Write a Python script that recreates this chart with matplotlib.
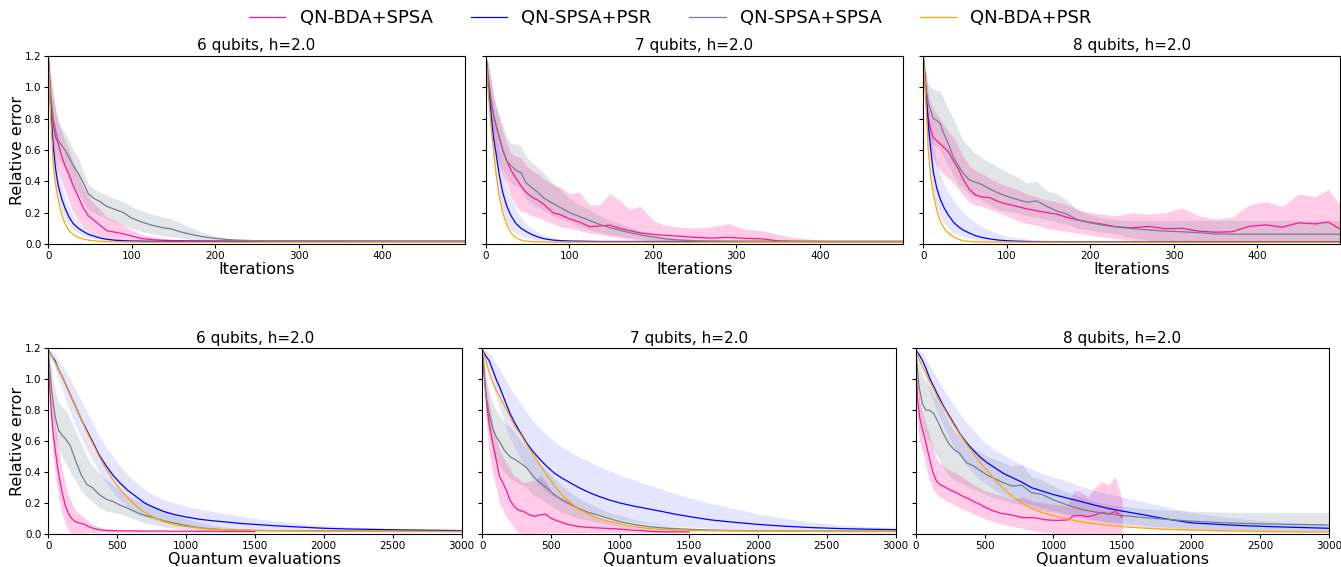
import numpy as np
import matplotlib.pyplot as plt

# colours for the four optimisers
C_BDA_SPSA = '#ff1493'
C_SPSA_PSR = 'blue'
C_SPSA_SPSA = 'slategray'
C_BDA_PSR = 'orange'

# ---------------- top row: x = iterations ----------------
it = [0, 3, 6, 9, 12, 16, 20, 25, 30, 36, 42, 48, 55, 62, 70, 80, 90, 100, 112, 124, 136,
      148, 160, 172, 185, 200, 215, 230, 250, 270, 290, 310, 330, 350, 370, 390, 410, 430,
      450, 470, 485, 499]

# 6 qubits
bda_spsa_6 = [1.20, 0.90, 0.76, 0.68, 0.64, 0.56, 0.50, 0.44, 0.37, 0.30, 0.23, 0.18, 0.15, 0.12, 0.085,
              0.075, 0.065, 0.05, 0.035, 0.028, 0.024, 0.022, 0.021, 0.02, 0.019, 0.019, 0.018, 0.018,
              0.017, 0.017, 0.017, 0.017, 0.017, 0.017, 0.017, 0.017, 0.016, 0.016, 0.016, 0.016, 0.016, 0.016]
bda_spsa_6_hi = [1.20, 1.05, 0.95, 0.85, 0.78, 0.72, 0.66, 0.60, 0.52, 0.44, 0.36, 0.30, 0.26, 0.22, 0.17,
                 0.15, 0.12, 0.09, 0.06, 0.045, 0.035, 0.03, 0.027, 0.025, 0.023, 0.022, 0.021, 0.021,
                 0.02, 0.02, 0.02, 0.02, 0.02, 0.02, 0.02, 0.02, 0.02, 0.02, 0.02, 0.02, 0.02, 0.02]
bda_spsa_6_lo = [1.20, 0.78, 0.60, 0.52, 0.46, 0.40, 0.34, 0.27, 0.20, 0.15, 0.11, 0.085, 0.065, 0.05, 0.04,
                 0.03, 0.025, 0.02, 0.016, 0.014, 0.013, 0.012, 0.012, 0.012, 0.012, 0.012, 0.012, 0.012,
                 0.012, 0.012, 0.012, 0.012, 0.012, 0.012, 0.012, 0.012, 0.012, 0.012, 0.012, 0.012, 0.012, 0.012]
spsa_spsa_6 = [1.20, 0.95, 0.80, 0.72, 0.66, 0.63, 0.60, 0.55, 0.50, 0.45, 0.39, 0.32, 0.29, 0.27, 0.24,
               0.22, 0.20, 0.165, 0.14, 0.12, 0.105, 0.095, 0.075, 0.06, 0.046, 0.036, 0.028, 0.024,
               0.021, 0.02, 0.02, 0.019, 0.019, 0.019, 0.018, 0.018, 0.018, 0.018, 0.018, 0.018, 0.018, 0.018]
spsa_spsa_6_hi = [1.20, 1.10, 0.95, 0.85, 0.78, 0.74, 0.71, 0.66, 0.60, 0.55, 0.46, 0.38, 0.35, 0.33, 0.31,
                  0.29, 0.27, 0.24, 0.21, 0.19, 0.175, 0.16, 0.13, 0.10, 0.075, 0.05, 0.035, 0.03,
                  0.026, 0.025, 0.024, 0.024, 0.023, 0.023, 0.023, 0.023, 0.023, 0.023, 0.023, 0.023, 0.023, 0.023]
spsa_spsa_6_lo = [1.20, 0.85, 0.65, 0.58, 0.54, 0.52, 0.50, 0.43, 0.38, 0.33, 0.27, 0.22, 0.20, 0.18, 0.16,
                  0.14, 0.12, 0.10, 0.08, 0.065, 0.055, 0.045, 0.035, 0.028, 0.022, 0.018, 0.015, 0.014,
                  0.013, 0.013, 0.013, 0.013, 0.013, 0.013, 0.013, 0.013, 0.013, 0.013, 0.013, 0.013, 0.013, 0.013]
spsa_psr_6 = [1.20, 0.85, 0.62, 0.47, 0.37, 0.29, 0.23, 0.17, 0.13, 0.10, 0.08, 0.062, 0.05, 0.038, 0.03,
              0.024, 0.021, 0.019, 0.018, 0.017, 0.017, 0.017, 0.017, 0.017, 0.017, 0.017, 0.017, 0.017,
              0.017, 0.017, 0.017, 0.017, 0.017, 0.017, 0.017, 0.017, 0.017, 0.017, 0.017, 0.017, 0.017, 0.017]
spsa_psr_6_hi = [1.20, 0.95, 0.75, 0.58, 0.47, 0.37, 0.30, 0.23, 0.18, 0.14, 0.11, 0.085, 0.068, 0.052, 0.04,
                 0.032, 0.027, 0.024, 0.022, 0.021, 0.02, 0.02, 0.02, 0.02, 0.02, 0.02, 0.02, 0.02,
                 0.02, 0.02, 0.02, 0.02, 0.02, 0.02, 0.02, 0.02, 0.02, 0.02, 0.02, 0.02, 0.02, 0.02]
spsa_psr_6_lo = [1.20, 0.75, 0.50, 0.37, 0.28, 0.21, 0.16, 0.12, 0.09, 0.07, 0.055, 0.044, 0.035, 0.028, 0.022,
                 0.018, 0.016, 0.015, 0.014, 0.014, 0.014, 0.014, 0.014, 0.014, 0.014, 0.014, 0.014, 0.014,
                 0.014, 0.014, 0.014, 0.014, 0.014, 0.014, 0.014, 0.014, 0.014, 0.014, 0.014, 0.014, 0.014, 0.014]
bda_psr_6 = [1.20, 0.80, 0.50, 0.37, 0.28, 0.19, 0.13, 0.085, 0.06, 0.042, 0.032, 0.025, 0.02, 0.017, 0.015,
             0.014, 0.013, 0.013, 0.012, 0.012, 0.012, 0.012, 0.012, 0.012, 0.012, 0.012, 0.012, 0.012,
             0.012, 0.012, 0.012, 0.012, 0.012, 0.012, 0.012, 0.012, 0.012, 0.012, 0.012, 0.012, 0.012, 0.012]

# 7 qubits
bda_spsa_7 = [1.20, 1.02, 0.90, 0.82, 0.76, 0.68, 0.60, 0.53, 0.47, 0.42, 0.37, 0.33, 0.30, 0.28, 0.25,
              0.20, 0.185, 0.16, 0.14, 0.11, 0.115, 0.12, 0.10, 0.085, 0.07, 0.062, 0.055, 0.05,
              0.042, 0.038, 0.042, 0.036, 0.033, 0.02, 0.016, 0.015, 0.014, 0.014, 0.014, 0.014, 0.014, 0.014]
bda_spsa_7_hi = [1.20, 1.15, 1.05, 0.95, 0.88, 0.80, 0.72, 0.64, 0.58, 0.56, 0.55, 0.50, 0.47, 0.45, 0.41,
                 0.38, 0.36, 0.32, 0.33, 0.25, 0.25, 0.32, 0.28, 0.22, 0.24, 0.15, 0.12, 0.11,
                 0.10, 0.11, 0.13, 0.095, 0.085, 0.06, 0.04, 0.03, 0.022, 0.02, 0.018, 0.017, 0.017, 0.017]
bda_spsa_7_lo = [1.20, 0.90, 0.75, 0.65, 0.57, 0.50, 0.44, 0.38, 0.30, 0.24, 0.21, 0.20, 0.18, 0.17, 0.15,
                 0.13, 0.11, 0.10, 0.085, 0.07, 0.06, 0.05, 0.04, 0.032, 0.025, 0.018, 0.015, 0.013,
                 0.012, 0.012, 0.012, 0.012, 0.012, 0.012, 0.012, 0.012, 0.012, 0.012, 0.012, 0.012, 0.012, 0.012]
spsa_spsa_7 = [1.20, 1.05, 0.93, 0.83, 0.76, 0.68, 0.60, 0.53, 0.50, 0.47, 0.455, 0.39, 0.36, 0.33, 0.29,
               0.26, 0.23, 0.20, 0.175, 0.15, 0.125, 0.105, 0.088, 0.072, 0.058, 0.045, 0.033, 0.026,
               0.021, 0.019, 0.018, 0.017, 0.017, 0.017, 0.017, 0.017, 0.017, 0.017, 0.017, 0.017, 0.017, 0.017]
spsa_spsa_7_hi = [1.20, 1.15, 1.05, 0.95, 0.88, 0.82, 0.76, 0.68, 0.64, 0.64, 0.62, 0.56, 0.52, 0.49, 0.45,
                  0.39, 0.34, 0.29, 0.25, 0.22, 0.18, 0.15, 0.13, 0.11, 0.085, 0.062, 0.045, 0.035,
                  0.027, 0.024, 0.022, 0.022, 0.022, 0.022, 0.022, 0.022, 0.022, 0.022, 0.022, 0.022, 0.022, 0.022]
spsa_spsa_7_lo = [1.20, 0.95, 0.80, 0.70, 0.62, 0.54, 0.48, 0.42, 0.39, 0.37, 0.35, 0.29, 0.26, 0.24, 0.21,
                  0.18, 0.16, 0.14, 0.11, 0.09, 0.075, 0.06, 0.05, 0.04, 0.032, 0.025, 0.02, 0.017,
                  0.015, 0.014, 0.013, 0.013, 0.013, 0.013, 0.013, 0.013, 0.013, 0.013, 0.013, 0.013, 0.013, 0.013]
spsa_psr_7 = [1.20, 1.00, 0.83, 0.68, 0.58, 0.44, 0.33, 0.24, 0.18, 0.13, 0.10, 0.08, 0.06, 0.045, 0.033,
              0.025, 0.021, 0.019, 0.018, 0.017, 0.016, 0.016, 0.016, 0.016, 0.016, 0.016, 0.016, 0.016,
              0.016, 0.016, 0.016, 0.016, 0.016, 0.016, 0.016, 0.016, 0.016, 0.016, 0.016, 0.016, 0.016, 0.016]
spsa_psr_7_hi = [1.20, 1.08, 0.95, 0.82, 0.72, 0.58, 0.46, 0.36, 0.29, 0.22, 0.17, 0.13, 0.10, 0.075, 0.055,
                 0.04, 0.03, 0.025, 0.022, 0.02, 0.019, 0.019, 0.019, 0.019, 0.019, 0.019, 0.019, 0.019,
                 0.019, 0.019, 0.019, 0.019, 0.019, 0.019, 0.019, 0.019, 0.019, 0.019, 0.019, 0.019, 0.019, 0.019]
spsa_psr_7_lo = [1.20, 0.90, 0.68, 0.52, 0.40, 0.28, 0.20, 0.13, 0.09, 0.065, 0.05, 0.04, 0.032, 0.025, 0.02,
                 0.017, 0.015, 0.014, 0.014, 0.014, 0.014, 0.014, 0.014, 0.014, 0.014, 0.014, 0.014, 0.014,
                 0.014, 0.014, 0.014, 0.014, 0.014, 0.014, 0.014, 0.014, 0.014, 0.014, 0.014, 0.014, 0.014, 0.014]
bda_psr_7 = [1.20, 0.95, 0.75, 0.60, 0.45, 0.30, 0.20, 0.12, 0.07, 0.04, 0.025, 0.018, 0.015, 0.014, 0.013,
             0.012, 0.012, 0.012, 0.012, 0.012, 0.012, 0.012, 0.012, 0.012, 0.012, 0.012, 0.012, 0.012,
             0.012, 0.012, 0.012, 0.012, 0.012, 0.012, 0.012, 0.012, 0.012, 0.012, 0.012, 0.012, 0.012, 0.012]

# 8 qubits
bda_spsa_8 = [1.20, 0.95, 0.80, 0.73, 0.68, 0.66, 0.64, 0.615, 0.59, 0.53, 0.48, 0.41, 0.35, 0.315, 0.30,
              0.295, 0.27, 0.255, 0.24, 0.224, 0.212, 0.20, 0.19, 0.17, 0.152, 0.138, 0.126, 0.11,
              0.103, 0.112, 0.097, 0.10, 0.082, 0.075, 0.078, 0.112, 0.122, 0.108, 0.135, 0.128, 0.14, 0.096]
bda_spsa_8_hi = [1.20, 1.10, 0.97, 0.90, 0.86, 0.83, 0.80, 0.76, 0.72, 0.68, 0.62, 0.56, 0.50, 0.47, 0.45,
                 0.42, 0.39, 0.37, 0.35, 0.32, 0.30, 0.28, 0.27, 0.25, 0.22, 0.20, 0.19, 0.18,
                 0.20, 0.19, 0.20, 0.23, 0.18, 0.16, 0.17, 0.25, 0.27, 0.24, 0.32, 0.30, 0.35, 0.25]
bda_spsa_8_lo = [1.20, 0.80, 0.65, 0.60, 0.55, 0.50, 0.47, 0.44, 0.42, 0.39, 0.35, 0.31, 0.27, 0.25, 0.24,
                 0.22, 0.20, 0.18, 0.15, 0.13, 0.12, 0.10, 0.09, 0.08, 0.07, 0.055, 0.045, 0.035,
                 0.022, 0.015, 0.012, 0.01, 0.01, 0.01, 0.01, 0.01, 0.01, 0.01, 0.01, 0.01, 0.01, 0.01]
spsa_spsa_8 = [1.20, 1.00, 0.90, 0.85, 0.80, 0.79, 0.77, 0.70, 0.64, 0.555, 0.50, 0.45, 0.41, 0.395, 0.38,
               0.35, 0.325, 0.305, 0.285, 0.267, 0.275, 0.24, 0.21, 0.19, 0.155, 0.135, 0.12, 0.11,
               0.098, 0.09, 0.082, 0.078, 0.072, 0.064, 0.063, 0.062, 0.062, 0.062, 0.062, 0.062, 0.062, 0.062]
spsa_spsa_8_hi = [1.20, 1.10, 1.02, 1.00, 0.99, 0.98, 0.98, 0.92, 0.86, 0.80, 0.72, 0.66, 0.62, 0.58, 0.55,
                  0.52, 0.49, 0.46, 0.43, 0.39, 0.40, 0.34, 0.32, 0.28, 0.22, 0.185, 0.165, 0.155,
                  0.15, 0.15, 0.15, 0.15, 0.15, 0.15, 0.15, 0.15, 0.15, 0.15, 0.15, 0.15, 0.15, 0.15]
spsa_spsa_8_lo = [1.20, 0.85, 0.70, 0.66, 0.63, 0.62, 0.60, 0.55, 0.50, 0.44, 0.38, 0.35, 0.32, 0.30, 0.28,
                  0.25, 0.22, 0.21, 0.20, 0.18, 0.17, 0.155, 0.14, 0.125, 0.10, 0.09, 0.075, 0.065,
                  0.04, 0.025, 0.02, 0.015, 0.012, 0.012, 0.012, 0.012, 0.012, 0.012, 0.012, 0.012, 0.012, 0.012]
spsa_psr_8 = [1.20, 1.00, 0.76, 0.60, 0.46, 0.36, 0.29, 0.23, 0.185, 0.14, 0.11, 0.088, 0.07, 0.054, 0.042,
              0.032, 0.025, 0.021, 0.018, 0.016, 0.015, 0.014, 0.014, 0.014, 0.014, 0.014, 0.014, 0.014,
              0.014, 0.014, 0.014, 0.014, 0.014, 0.014, 0.014, 0.014, 0.014, 0.014, 0.014, 0.014, 0.014, 0.014]
spsa_psr_8_hi = [1.20, 1.08, 0.90, 0.75, 0.62, 0.52, 0.45, 0.38, 0.33, 0.28, 0.24, 0.20, 0.17, 0.14, 0.11,
                 0.085, 0.065, 0.05, 0.04, 0.032, 0.027, 0.024, 0.022, 0.02, 0.018, 0.018, 0.018, 0.018,
                 0.018, 0.018, 0.018, 0.018, 0.018, 0.018, 0.018, 0.018, 0.018, 0.018, 0.018, 0.018, 0.018, 0.018]
spsa_psr_8_lo = [1.20, 0.90, 0.62, 0.44, 0.32, 0.24, 0.18, 0.13, 0.10, 0.075, 0.058, 0.045, 0.036, 0.028, 0.022,
                 0.018, 0.016, 0.014, 0.013, 0.013, 0.013, 0.013, 0.013, 0.013, 0.013, 0.013, 0.013, 0.013,
                 0.013, 0.013, 0.013, 0.013, 0.013, 0.013, 0.013, 0.013, 0.013, 0.013, 0.013, 0.013, 0.013, 0.013]
bda_psr_8 = [1.20, 0.92, 0.60, 0.42, 0.32, 0.22, 0.15, 0.10, 0.07, 0.045, 0.03, 0.021, 0.016, 0.014, 0.013,
             0.012, 0.012, 0.012, 0.012, 0.012, 0.012, 0.012, 0.012, 0.012, 0.012, 0.012, 0.012, 0.012,
             0.012, 0.012, 0.012, 0.012, 0.012, 0.012, 0.012, 0.012, 0.012, 0.012, 0.012, 0.012, 0.012, 0.012]

# ---------------- bottom row: x = quantum evaluations ----------------
ev = [0, 25, 50, 75, 100, 130, 160, 200, 240, 280, 320, 370, 420, 470, 520, 580, 640, 700, 770, 840,
      920, 1000, 1100, 1200, 1300, 1400, 1500, 1650, 1800, 2000, 2200, 2400, 2600, 2800, 3000]
# QN-BDA+SPSA only runs up to 1500 evaluations
ev_bda = [0, 15, 30, 45, 60, 80, 100, 125, 150, 175, 200, 230, 260, 300, 340, 380, 420, 460, 500, 560,
          620, 700, 780, 860, 940, 1020, 1100, 1150, 1200, 1250, 1300, 1350, 1400, 1450, 1500]

# 6 qubits
q_bda_spsa_6 = [1.10, 0.88, 0.70, 0.58, 0.48, 0.36, 0.27, 0.18, 0.125, 0.095, 0.078, 0.07, 0.063, 0.045, 0.033,
                0.026, 0.023, 0.022, 0.021, 0.02, 0.02, 0.019, 0.019, 0.019, 0.018, 0.018, 0.018, 0.018,
                0.018, 0.017, 0.017, 0.017, 0.017, 0.017, 0.017]
q_bda_spsa_6_hi = [1.15, 1.00, 0.85, 0.75, 0.65, 0.52, 0.42, 0.32, 0.24, 0.19, 0.15, 0.13, 0.11, 0.075, 0.055,
                   0.04, 0.035, 0.032, 0.03, 0.027, 0.025, 0.024, 0.023, 0.022, 0.022, 0.021, 0.021, 0.021,
                   0.02, 0.02, 0.02, 0.02, 0.02, 0.02, 0.02]
q_bda_spsa_6_lo = [1.05, 0.76, 0.55, 0.42, 0.32, 0.22, 0.13, 0.06, 0.02, 0.004, 0.004, 0.006, 0.008, 0.01, 0.01,
                   0.012, 0.012, 0.012, 0.012, 0.012, 0.012, 0.012, 0.012, 0.012, 0.012, 0.012, 0.012, 0.012,
                   0.012, 0.012, 0.012, 0.012, 0.012, 0.012, 0.012]
q_spsa_spsa_6 = [1.18, 0.92, 0.76, 0.67, 0.64, 0.61, 0.57, 0.47, 0.38, 0.32, 0.30, 0.255, 0.225, 0.21, 0.187,
                 0.165, 0.14, 0.12, 0.105, 0.085, 0.07, 0.055, 0.04, 0.032, 0.027, 0.025, 0.023, 0.022,
                 0.021, 0.02, 0.02, 0.019, 0.019, 0.018, 0.018]
q_spsa_spsa_6_hi = [1.20, 1.05, 0.92, 0.85, 0.82, 0.80, 0.74, 0.66, 0.58, 0.50, 0.44, 0.39, 0.35, 0.32, 0.28,
                    0.25, 0.22, 0.20, 0.18, 0.15, 0.125, 0.10, 0.075, 0.055, 0.042, 0.035, 0.03, 0.027,
                    0.025, 0.024, 0.023, 0.023, 0.022, 0.022, 0.022]
q_spsa_spsa_6_lo = [1.15, 0.80, 0.62, 0.55, 0.50, 0.45, 0.40, 0.34, 0.28, 0.24, 0.21, 0.17, 0.15, 0.14, 0.13,
                    0.11, 0.09, 0.07, 0.06, 0.045, 0.035, 0.028, 0.02, 0.017, 0.016, 0.015, 0.014, 0.014,
                    0.014, 0.014, 0.014, 0.014, 0.014, 0.014, 0.014]
q_spsa_psr_6 = [1.19, 1.15, 1.12, 1.06, 1.02, 0.96, 0.90, 0.82, 0.74, 0.67, 0.60, 0.51, 0.44, 0.38, 0.33,
                0.28, 0.24, 0.20, 0.17, 0.145, 0.125, 0.11, 0.095, 0.085, 0.077, 0.068, 0.062, 0.053,
                0.046, 0.037, 0.032, 0.029, 0.026, 0.024, 0.022]
q_spsa_psr_6_hi = [1.20, 1.18, 1.16, 1.12, 1.09, 1.05, 1.00, 0.93, 0.86, 0.79, 0.72, 0.63, 0.56, 0.50, 0.44,
                   0.38, 0.33, 0.29, 0.25, 0.22, 0.20, 0.18, 0.16, 0.145, 0.13, 0.115, 0.10, 0.085,
                   0.07, 0.055, 0.045, 0.038, 0.034, 0.031, 0.029]
q_spsa_psr_6_lo = [1.18, 1.12, 1.07, 1.00, 0.94, 0.86, 0.79, 0.70, 0.62, 0.55, 0.48, 0.40, 0.33, 0.27, 0.22,
                   0.17, 0.13, 0.11, 0.09, 0.075, 0.065, 0.055, 0.045, 0.04, 0.035, 0.03, 0.027, 0.024,
                   0.022, 0.02, 0.018, 0.017, 0.016, 0.016, 0.015]
q_bda_psr_6 = [1.19, 1.15, 1.11, 1.06, 1.02, 0.96, 0.90, 0.82, 0.74, 0.66, 0.59, 0.50, 0.42, 0.35, 0.29,
               0.23, 0.18, 0.14, 0.105, 0.08, 0.06, 0.048, 0.037, 0.031, 0.027, 0.025, 0.023, 0.021,
               0.02, 0.019, 0.018, 0.017, 0.016, 0.016, 0.015]

# 7 qubits
q_bda_spsa_7 = [1.19, 1.00, 0.86, 0.74, 0.66, 0.57, 0.48, 0.37, 0.33, 0.28, 0.22, 0.18, 0.155, 0.145, 0.125,
                0.113, 0.125, 0.128, 0.10, 0.08, 0.062, 0.048, 0.042, 0.038, 0.035, 0.03, 0.024, 0.022,
                0.018, 0.015, 0.015, 0.014, 0.014, 0.014, 0.014]
q_bda_spsa_7_hi = [1.20, 1.10, 0.98, 0.88, 0.80, 0.70, 0.62, 0.54, 0.50, 0.46, 0.42, 0.38, 0.36, 0.33, 0.34,
                   0.35, 0.38, 0.34, 0.28, 0.24, 0.22, 0.17, 0.13, 0.10, 0.075, 0.055, 0.04, 0.035,
                   0.03, 0.026, 0.024, 0.022, 0.021, 0.02, 0.02]
q_bda_spsa_7_lo = [1.18, 0.90, 0.72, 0.56, 0.46, 0.37, 0.30, 0.20, 0.16, 0.11, 0.08, 0.04, 0.01, 0.004, 0.004,
                   0.005, 0.006, 0.007, 0.008, 0.008, 0.009, 0.009, 0.01, 0.01, 0.01, 0.01, 0.01, 0.01,
                   0.01, 0.01, 0.01, 0.01, 0.01, 0.01, 0.01]
q_spsa_spsa_7 = [1.19, 0.90, 0.78, 0.68, 0.63, 0.59, 0.54, 0.50, 0.48, 0.455, 0.43, 0.37, 0.33, 0.297, 0.255,
                 0.22, 0.19, 0.165, 0.14, 0.122, 0.10, 0.08, 0.062, 0.048, 0.04, 0.034, 0.03, 0.026,
                 0.023, 0.021, 0.02, 0.019, 0.019, 0.019, 0.018]
q_spsa_spsa_7_hi = [1.20, 1.00, 0.92, 0.85, 0.80, 0.76, 0.72, 0.69, 0.65, 0.60, 0.56, 0.50, 0.45, 0.41, 0.36,
                    0.31, 0.27, 0.23, 0.20, 0.17, 0.14, 0.12, 0.095, 0.075, 0.06, 0.048, 0.04, 0.033,
                    0.028, 0.026, 0.025, 0.024, 0.024, 0.023, 0.023]
q_spsa_spsa_7_lo = [1.17, 0.78, 0.64, 0.54, 0.48, 0.43, 0.40, 0.36, 0.34, 0.32, 0.30, 0.25, 0.23, 0.20, 0.17,
                    0.14, 0.12, 0.10, 0.09, 0.075, 0.06, 0.05, 0.035, 0.027, 0.022, 0.02, 0.018, 0.017,
                    0.016, 0.015, 0.015, 0.015, 0.015, 0.015, 0.015]
q_spsa_psr_7 = [1.19, 1.15, 1.12, 1.06, 1.00, 0.94, 0.87, 0.78, 0.71, 0.65, 0.59, 0.53, 0.48, 0.435, 0.395,
                0.36, 0.33, 0.30, 0.27, 0.245, 0.22, 0.20, 0.18, 0.163, 0.146, 0.128, 0.113, 0.092,
                0.078, 0.062, 0.05, 0.041, 0.035, 0.031, 0.028]
q_spsa_psr_7_hi = [1.20, 1.19, 1.17, 1.14, 1.10, 1.06, 1.01, 0.95, 0.89, 0.84, 0.79, 0.73, 0.68, 0.64, 0.60,
                   0.56, 0.53, 0.50, 0.47, 0.44, 0.41, 0.38, 0.35, 0.32, 0.29, 0.26, 0.235, 0.20,
                   0.17, 0.13, 0.10, 0.075, 0.058, 0.048, 0.042]
q_spsa_psr_7_lo = [1.18, 1.10, 1.04, 0.96, 0.88, 0.80, 0.72, 0.62, 0.55, 0.48, 0.42, 0.37, 0.31, 0.27, 0.24,
                   0.21, 0.19, 0.17, 0.15, 0.13, 0.11, 0.095, 0.08, 0.068, 0.058, 0.05, 0.044, 0.037,
                   0.032, 0.027, 0.024, 0.022, 0.021, 0.02, 0.02]
q_bda_psr_7 = [1.19, 1.12, 1.04, 0.98, 0.93, 0.88, 0.83, 0.76, 0.69, 0.64, 0.58, 0.51, 0.445, 0.38, 0.315,
               0.25, 0.20, 0.16, 0.13, 0.102, 0.082, 0.066, 0.047, 0.036, 0.029, 0.026, 0.024, 0.022,
               0.02, 0.019, 0.018, 0.017, 0.016, 0.015, 0.015]

# 8 qubits
q_bda_spsa_8 = [1.12, 0.86, 0.75, 0.69, 0.64, 0.567, 0.49, 0.40, 0.345, 0.32, 0.31, 0.295, 0.28, 0.265, 0.245,
                0.23, 0.21, 0.195, 0.175, 0.15, 0.134, 0.122, 0.105, 0.106, 0.092, 0.088, 0.09, 0.118,
                0.12, 0.112, 0.122, 0.14, 0.13, 0.145, 0.108]
q_bda_spsa_8_hi = [1.20, 1.00, 0.86, 0.80, 0.75, 0.70, 0.64, 0.57, 0.49, 0.46, 0.44, 0.42, 0.41, 0.39, 0.37,
                   0.34, 0.32, 0.30, 0.28, 0.265, 0.25, 0.225, 0.24, 0.21, 0.20, 0.19, 0.18, 0.28,
                   0.27, 0.24, 0.30, 0.34, 0.32, 0.37, 0.22]
q_bda_spsa_8_lo = [1.00, 0.70, 0.60, 0.55, 0.50, 0.42, 0.35, 0.29, 0.26, 0.24, 0.23, 0.21, 0.20, 0.18, 0.16,
                   0.15, 0.13, 0.115, 0.10, 0.08, 0.065, 0.05, 0.035, 0.02, 0.01, 0.005, 0.005, 0.005,
                   0.005, 0.005, 0.005, 0.005, 0.005, 0.005, 0.005]
q_spsa_spsa_8 = [1.19, 0.95, 0.84, 0.80, 0.80, 0.78, 0.73, 0.65, 0.585, 0.545, 0.52, 0.46, 0.44, 0.41, 0.38,
                 0.355, 0.33, 0.31, 0.315, 0.268, 0.255, 0.22, 0.188, 0.16, 0.143, 0.13, 0.12, 0.107,
                 0.096, 0.083, 0.074, 0.068, 0.064, 0.061, 0.058]
q_spsa_spsa_8_hi = [1.20, 1.10, 1.02, 0.98, 0.95, 0.90, 0.86, 0.80, 0.72, 0.67, 0.63, 0.58, 0.55, 0.53, 0.50,
                    0.48, 0.46, 0.44, 0.45, 0.37, 0.35, 0.31, 0.27, 0.24, 0.21, 0.19, 0.18, 0.165,
                    0.155, 0.148, 0.142, 0.14, 0.14, 0.14, 0.14]
q_spsa_spsa_8_lo = [1.17, 0.80, 0.68, 0.62, 0.60, 0.55, 0.50, 0.43, 0.38, 0.35, 0.33, 0.31, 0.29, 0.27, 0.25,
                    0.23, 0.22, 0.20, 0.19, 0.17, 0.15, 0.14, 0.12, 0.10, 0.085, 0.07, 0.055, 0.04,
                    0.03, 0.02, 0.015, 0.012, 0.01, 0.01, 0.01]
q_spsa_psr_8 = [1.19, 1.16, 1.12, 1.07, 1.01, 0.955, 0.90, 0.83, 0.77, 0.71, 0.65, 0.59, 0.54, 0.495, 0.46,
                0.425, 0.39, 0.365, 0.335, 0.30, 0.277, 0.255, 0.232, 0.21, 0.186, 0.165, 0.148, 0.125,
                0.10, 0.072, 0.062, 0.053, 0.047, 0.042, 0.037]
q_spsa_psr_8_hi = [1.20, 1.19, 1.17, 1.13, 1.09, 1.05, 1.00, 0.94, 0.88, 0.83, 0.78, 0.72, 0.67, 0.62, 0.58,
                   0.54, 0.51, 0.48, 0.45, 0.42, 0.39, 0.37, 0.34, 0.31, 0.28, 0.26, 0.24, 0.21,
                   0.18, 0.14, 0.115, 0.095, 0.08, 0.07, 0.062]
q_spsa_psr_8_lo = [1.18, 1.12, 1.06, 0.99, 0.92, 0.85, 0.78, 0.70, 0.62, 0.56, 0.50, 0.44, 0.39, 0.35, 0.32,
                   0.28, 0.25, 0.23, 0.21, 0.19, 0.17, 0.15, 0.13, 0.11, 0.095, 0.082, 0.07, 0.055,
                   0.045, 0.035, 0.03, 0.026, 0.023, 0.021, 0.02]
q_bda_psr_8 = [1.19, 1.13, 1.08, 1.04, 0.99, 0.94, 0.88, 0.82, 0.76, 0.70, 0.645, 0.58, 0.52, 0.46, 0.41,
               0.345, 0.29, 0.245, 0.20, 0.165, 0.138, 0.118, 0.097, 0.08, 0.066, 0.055, 0.047, 0.038,
               0.031, 0.026, 0.022, 0.019, 0.016, 0.014, 0.013]

titles = ['6 qubits, h=2.0', '7 qubits, h=2.0', '8 qubits, h=2.0']
labels = ['QN-BDA+SPSA', 'QN-SPSA+PSR', 'QN-SPSA+SPSA', 'QN-BDA+PSR']


def draw(ax, x, mean, lo, hi, color, alpha, label):
    if lo is not None:
        ax.fill_between(x, lo, hi, color=color, alpha=alpha, linewidth=0)
    ax.plot(x, mean, color=color, lw=0.9, label=label)


fig = plt.figure(figsize=(13.41, 5.67), dpi=100)

top_lefts = [0.0360, 0.3624, 0.6885]
bot_lefts = [0.0360, 0.3597, 0.6828]

top_data = [
    (bda_spsa_6, bda_spsa_6_lo, bda_spsa_6_hi, spsa_psr_6, spsa_psr_6_lo, spsa_psr_6_hi,
     spsa_spsa_6, spsa_spsa_6_lo, spsa_spsa_6_hi, bda_psr_6),
    (bda_spsa_7, bda_spsa_7_lo, bda_spsa_7_hi, spsa_psr_7, spsa_psr_7_lo, spsa_psr_7_hi,
     spsa_spsa_7, spsa_spsa_7_lo, spsa_spsa_7_hi, bda_psr_7),
    (bda_spsa_8, bda_spsa_8_lo, bda_spsa_8_hi, spsa_psr_8, spsa_psr_8_lo, spsa_psr_8_hi,
     spsa_spsa_8, spsa_spsa_8_lo, spsa_spsa_8_hi, bda_psr_8),
]
bot_data = [
    (q_bda_spsa_6, q_bda_spsa_6_lo, q_bda_spsa_6_hi, q_spsa_psr_6, q_spsa_psr_6_lo, q_spsa_psr_6_hi,
     q_spsa_spsa_6, q_spsa_spsa_6_lo, q_spsa_spsa_6_hi, q_bda_psr_6),
    (q_bda_spsa_7, q_bda_spsa_7_lo, q_bda_spsa_7_hi, q_spsa_psr_7, q_spsa_psr_7_lo, q_spsa_psr_7_hi,
     q_spsa_spsa_7, q_spsa_spsa_7_lo, q_spsa_spsa_7_hi, q_bda_psr_7),
    (q_bda_spsa_8, q_bda_spsa_8_lo, q_bda_spsa_8_hi, q_spsa_psr_8, q_spsa_psr_8_lo, q_spsa_psr_8_hi,
     q_spsa_spsa_8, q_spsa_spsa_8_lo, q_spsa_spsa_8_hi, q_bda_psr_8),
]

for row in range(2):
    for col in range(3):
        if row == 0:
            ax = fig.add_axes([top_lefts[col], 0.5697, 0.3107, 0.3316])
            d = top_data[col]
            xb, xo = it, it
        else:
            ax = fig.add_axes([bot_lefts[col], 0.0582, 0.3082, 0.3275])
            d = bot_data[col]
            xb, xo = ev_bda, ev
        draw(ax, xb, d[0], d[1], d[2], C_BDA_SPSA, 0.22, labels[0])
        draw(ax, xo, d[3], d[4], d[5], C_SPSA_PSR, 0.1, labels[1])
        draw(ax, xo, d[6], d[7], d[8], C_SPSA_SPSA, 0.2, labels[2])
        draw(ax, xo, d[9], None, None, C_BDA_PSR, 0.2, labels[3])

        ax.set_ylim(0, 1.2)
        ax.set_yticks(np.arange(0, 1.21, 0.2))
        if row == 0:
            ax.set_xlim(0, 499)
            ax.set_xticks([0, 100, 200, 300, 400])
            ax.set_xlabel('Iterations', fontsize=11.5, labelpad=1)
        else:
            ax.set_xlim(0, 3000)
            ax.set_xticks(np.arange(0, 3001, 500))
            ax.set_xlabel('Quantum evaluations', fontsize=11.5, labelpad=1)
        ax.tick_params(labelsize=7.5, length=3, pad=2)
        ax.set_title(titles[col], fontsize=11, pad=4)
        if col == 0:
            ax.set_ylabel('Relative error', fontsize=11.5, labelpad=0)
        else:
            ax.tick_params(labelleft=False)
        if row == 0 and col == 0:
            handles, labs = ax.get_legend_handles_labels()

fig.legend(handles, labs, loc='upper center', bbox_to_anchor=(0.5, 1.012), ncol=4,
           frameon=False, fontsize=13, columnspacing=2.1, handlelength=2.0)

plt.savefig('out.png', dpi=100)
